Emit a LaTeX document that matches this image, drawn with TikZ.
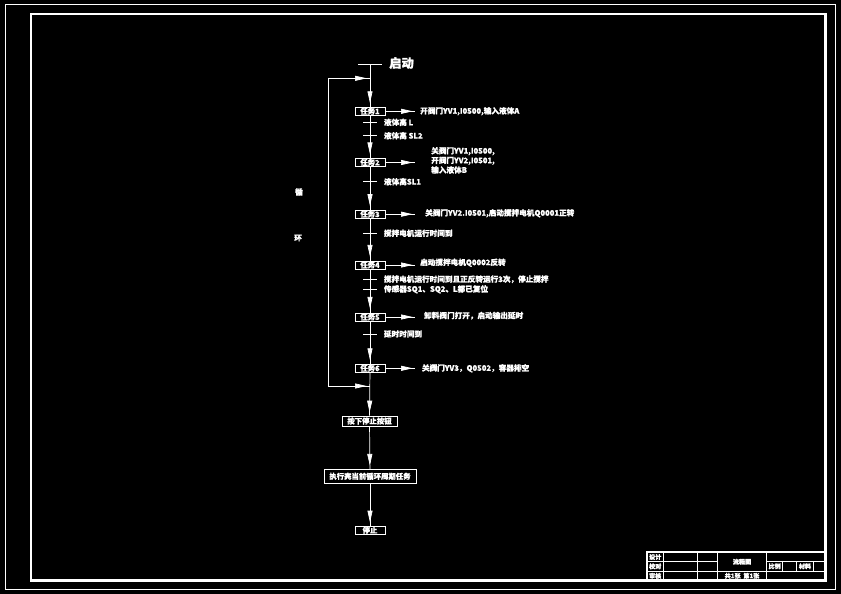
\documentclass[tikz,border=0pt]{standalone}
\usepackage{fontspec}
\setmainfont[FakeBold=1.3]{Noto Sans CJK SC}
\usetikzlibrary{arrows.meta,positioning,decorations.markings}
\newcommand{\lblsize}{\fontsize{6.5}{8.2}\selectfont\bfseries}
\newcommand{\boxsize}{\fontsize{6.3}{7}\selectfont\bfseries}
\newcommand{\tbsize}{\fontsize{5.2}{6}\selectfont\bfseries}
\tikzset{
  wire/.style={draw=white,line width=0.6pt},
  flow/.style={wire,postaction={decorate},
    decoration={markings,mark=at position -#1 with {\arrow{Triangle[length=3.5mm,width=1.5mm]}}}},
  flow/.default=1.2mm,
  task/.style={draw=white,line width=0.6pt,text=white,font=\boxsize,
               inner sep=0pt,minimum width=9mm,minimum height=2.4mm},
  lbl/.style={text=white,font=\lblsize,anchor=west,inner sep=0pt,align=left},
  tbtxt/.style={text=white,font=\tbsize,inner sep=0pt},
}

\begin{document}
\begin{tikzpicture}[x=0.3mm,y=-0.3mm]
  % sheet and frames
  \fill[black] (0,0) rectangle (841,594);
  \useasboundingbox (0,0) rectangle (841,594);
  \draw[white,line width=0.5pt] (5,4.5) rectangle (835.5,589.5);
  \draw[white,line width=2pt] (30.8,14.3) rectangle (825.5,580.5);

  % start
  \coordinate (top) at (370,64);
  \coordinate (barL) at (358,64);
  \coordinate (barR) at (382,64);
  \node[lbl,font=\fontsize{10.5}{12}\selectfont\bfseries] (start) at (389,63) {启动};
  \draw[wire] (barL) -- (barR);

  % steps
  \node[task] (t1) at (370,111.3) {任务1};
  \node[task] (t2) at (370,162.5) {任务2};
  \node[task] (t3) at (370,214.2) {任务3};
  \node[task] (t4) at (370,265)   {任务4};
  \node[task] (t5) at (370,317)   {任务5};
  \node[task] (t6) at (370,368.3) {任务6};
  \node[task,minimum width=16.5mm,minimum height=3mm] (stop) at (369.5,421) {按下停止按钮};
  \node[task,minimum width=27.6mm,minimum height=4.2mm] (cyc) at (370,476.3) {执行完当前循环周期任务};
  \node[task,minimum height=2.5mm] (end) at (370,530.2) {停止};

  \draw[flow] (top) -- (t1);
  \draw[flow] (t1) -- (t2);
  \draw[flow] (t2) -- (t3);
  \draw[flow] (t3) -- (t4);
  \draw[flow] (t4) -- (t5);
  \draw[flow] (t5) -- (t6);
  \draw[flow=1mm] (t6) -- (stop);
  \draw[flow=1mm] (stop) -- (cyc);
  \draw[flow=1mm] (cyc) -- (end);

  % loop back
  \coordinate (lt) at (370,78.3);
  \coordinate (lb) at (370,386);
  \coordinate (lct) at (328.3,78.3);
  \coordinate (lcb) at (328.3,386);
  \draw[wire] (lcb) -- (lct);
  \draw[flow=1mm] (lct) -- (lt);
  \draw[flow=1mm] (lcb) -- (lb);
  \node[lbl,anchor=center] (xun) at (299,192) {循};
  \node[lbl,anchor=center] (huan) at (298,238) {环};

  % actions
  \node[lbl] (a1) at (420,111.3) {开阀门YV1,I0500,输入液体A};
  \node[lbl] (a2) at (431,160.3) {关阀门YV1,I0500,\\开阀门YV2,I0501,\\输入液体B};
  \node[lbl] (a3) at (425,213.3) {关阀门YV2.I0501,启动搅拌电机Q0001正转};
  \node[lbl] (a4) at (420,262.7) {启动搅拌电机Q0002反转};
  \node[lbl] (a5) at (424,315.7) {卸料阀门打开，启动输出延时};
  \node[lbl] (a6) at (421.7,368.3) {关阀门YV3，Q0502，容器排空};
  \foreach \i/\y in {1/111.3,2/162.5,3/214.2,4/265,5/317,6/368.3}{
    \coordinate (o\i) at (415,\y);
    \draw[flow=0.7mm] (t\i) -- (o\i);
  }

  % transitions
  \foreach \y/\txt in {122.3/液体高 L, 135.7/液体高 SL2, 181.7/液体高SL1,
      233.3/搅拌电机运行时间到, 279.3/{搅拌电机运行时间到且正反转运行3次，停止搅拌},
      289.3/{传感器SQ1、SQ2、L都已复位}, 334/延时时间到}{
    \draw[wire] (363,\y) -- (377,\y) node[lbl,right=2mm] {\txt};
  }

  % title block
  \draw[white,line width=1.2pt] (647,552) rectangle (825.5,580.5);
  \draw[wire] (647,561.7) -- (717.3,561.7);
  \draw[wire] (766.7,561.7) -- (825.5,561.7);
  \draw[wire] (647,571) -- (825.5,571);
  \foreach \x in {663.3,697.3}{\draw[wire] (\x,552) -- (\x,580.5);}
  \foreach \x in {717.3,766.7}{\draw[wire] (\x,552) -- (\x,580.5);}
  \foreach \x in {782.7,796.7,813.3}{\draw[wire] (\x,561.7) -- (\x,571);}
  \node[tbtxt] (tb1) at (655.2,557) {设计};
  \node[tbtxt] (tb2) at (655.2,566.3) {校对};
  \node[tbtxt] (tb3) at (655.2,575.8) {审核};
  \node[tbtxt] (tbn) at (742,561.7) {流程图};
  \node[tbtxt] (tbs) at (742,575.8) {共1张\ \ 第1张};
  \node[tbtxt] (tbr) at (774.7,566.3) {比例};
  \node[tbtxt] (tbm) at (805,566.3) {材料};
\end{tikzpicture}
\end{document}
